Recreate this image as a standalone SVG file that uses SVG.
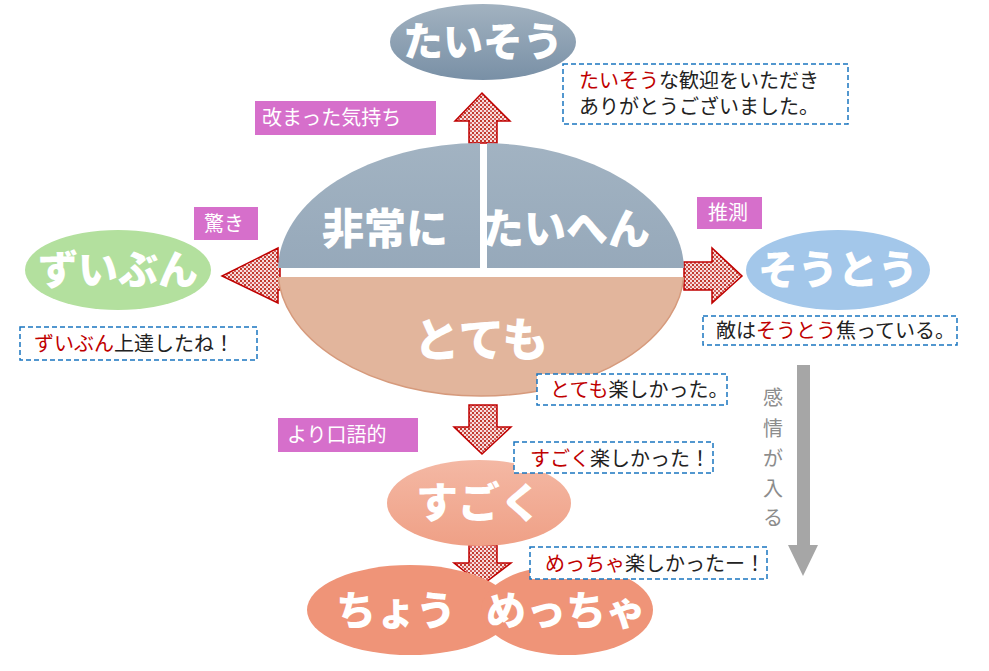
<svg xmlns="http://www.w3.org/2000/svg" width="989" height="671" viewBox="0 0 989 671">
<defs>
<pattern id="dots" width="4" height="4" patternUnits="userSpaceOnUse"><rect width="4" height="4" fill="#f6dede"/><rect width="2" height="2" fill="#c0392b"/><rect x="2" y="2" width="2" height="2" fill="#d46060"/></pattern>
<linearGradient id="gray" x1="0" y1="0" x2="0" y2="1"><stop offset="0" stop-color="#a2b3c2"/><stop offset="1" stop-color="#8a9eb2"/></linearGradient>
<linearGradient id="gray2" x1="0" y1="0" x2="0" y2="1"><stop offset="0" stop-color="#a2b2c0"/><stop offset="1" stop-color="#7990a6"/></linearGradient>
<linearGradient id="sal" x1="0" y1="0" x2="0" y2="1"><stop offset="0" stop-color="#f4b8a4"/><stop offset="1" stop-color="#efa086"/></linearGradient>
<clipPath id="top"><rect x="270" y="130" width="210" height="138"/><rect x="487" y="130" width="210" height="138"/></clipPath>
<clipPath id="bot"><rect x="270" y="277" width="430" height="130"/></clipPath>
</defs>
<style>
.big{font-family:"Noto Sans CJK JP",sans-serif;font-weight:900;fill:#fff;text-anchor:middle}
.lab{font-family:"Noto Sans CJK JP",sans-serif;font-size:20px;fill:#fff}
.lbox{fill:#d66fcb}
.box{fill:#fff;stroke:#1a75c0;stroke-width:1.5;stroke-dasharray:5 3}
.t{font-family:"Noto Sans CJK JP",sans-serif;font-size:20px;fill:#222}
.r{fill:#c00000}
.arr{fill:url(#dots);stroke:#c00000;stroke-width:1.5}
</style>
<g id="connectors">
<path class="arr" d="M469,143 V121 H455 L482,93 L510,121 H497 V143 Z"/>
<path class="arr" d="M280,262 H278 V248 L222,276 L278,303 V290 H280 Z"/>
<path class="arr" d="M684,262 H712 V248 L742,276 L712,303 V290 H684 Z"/>
<path class="arr" d="M469,405 V427 H454 L482,454 L511,427 H497 V405 Z"/>
<path class="arr" d="M469,545 V563 H454 L482,585 L511,563 H497 V545 Z"/>
<path d="M797,365 H810 V545 H818 L803,576 L788,545 H797 Z" fill="#a6a6a6"/>
</g>
<g id="center">
<ellipse cx="481" cy="270" rx="203" ry="127" fill="url(#gray)" clip-path="url(#top)"/>
<ellipse cx="481" cy="270" rx="203" ry="126" fill="#e2b59c" stroke="#d69a7c" stroke-width="1.5" clip-path="url(#bot)"/>
<text class="big" x="385" y="244" font-size="42">非常に</text>
<text class="big" x="566" y="244" font-size="42">たいへん</text>
<text class="big" x="481" y="356" font-size="46">とても</text>
</g>
<g id="taisou">
<ellipse cx="483" cy="42" rx="93" ry="38" fill="url(#gray2)"/>
<text class="big" x="483" y="56" font-size="40">たいそう</text>
</g>
<g id="zuibun">
<ellipse cx="118" cy="270" rx="93" ry="40" fill="#b3e09e"/>
<text class="big" x="118" y="284" font-size="40">ずいぶん</text>
</g>
<g id="soutou">
<ellipse cx="838" cy="270" rx="92" ry="40" fill="#a3c7ea"/>
<text class="big" x="838" y="284" font-size="40">そうとう</text>
</g>
<g id="sugoku">
<ellipse cx="479" cy="503" rx="92" ry="43" fill="url(#sal)"/>
<text class="big" x="479" y="518" font-size="42">すごく</text>
</g>
<g id="chou">
<ellipse cx="410" cy="610" rx="103" ry="45" fill="#ef9478"/>
<ellipse cx="567" cy="610" rx="86" ry="45" fill="#ef9478"/>
<text class="big" x="396" y="625" font-size="40">ちょう</text>
<text class="big" x="566" y="625" font-size="40">めっちゃ</text>
</g>
<g id="labels">
<rect class="lbox" x="255" y="101" width="181" height="34"/><text class="lab" x="262" y="125">改まった気持ち</text>
<rect class="lbox" x="194" y="207" width="64" height="33"/><text class="lab" x="204" y="231">驚き</text>
<rect class="lbox" x="697" y="197" width="65" height="32"/><text class="lab" x="708" y="220">推測</text>
<rect class="lbox" x="278" y="418" width="140" height="34"/><text class="lab" x="287" y="442">より口語的</text>
<text font-family="Noto Sans CJK JP,sans-serif" font-size="20" fill="#8c8c8c" text-anchor="middle"><tspan x="773" y="405">感</tspan><tspan x="773" y="436">情</tspan><tspan x="773" y="466">が</tspan><tspan x="773" y="496">入</tspan><tspan x="773" y="525">る</tspan></text>
</g>
<g id="examples">
<rect class="box" x="563" y="64" width="285" height="60"/>
<text class="t" x="579" y="88"><tspan class="r">たいそう</tspan>な歓迎をいただき</text>
<text class="t" x="579" y="114">ありがとうございました。</text>
<rect class="box" x="20" y="327" width="237" height="33"/>
<text class="t" x="34" y="351"><tspan class="r">ずいぶん</tspan>上達したね！</text>
<rect class="box" x="703" y="316" width="254" height="29"/>
<text class="t" x="716" y="338">敵は<tspan class="r">そうとう</tspan>焦っている。</text>
<rect class="box" x="537" y="374" width="190" height="31"/>
<text class="t" x="550" y="397"><tspan class="r">とても</tspan>楽しかった。</text>
<rect class="box" x="514" y="442" width="199" height="31"/>
<text class="t" x="530" y="466"><tspan class="r">すごく</tspan>楽しかった！</text>
<rect class="box" x="530" y="547" width="237" height="32"/>
<text class="t" x="545" y="571"><tspan class="r">めっちゃ</tspan>楽しかったー！</text>
</g>
</svg>
